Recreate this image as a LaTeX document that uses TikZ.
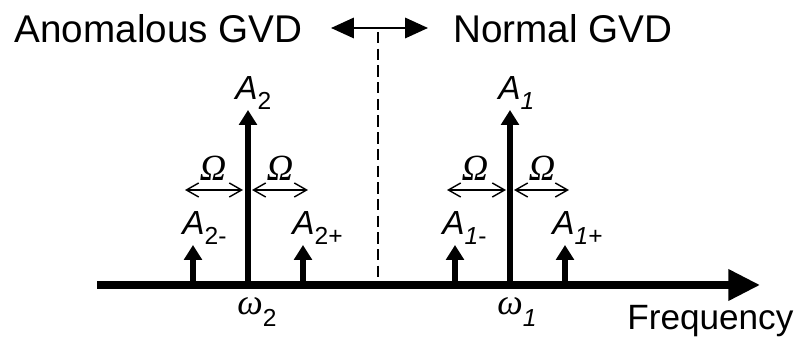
\documentclass[tikz,border=0pt]{standalone}
\usepackage{fontspec}
\setmainfont{Liberation Sans}
\newfontfamily\grk{Liberation Serif}
\usetikzlibrary{arrows.meta}
\newcommand{\gvdfont}{\fontsize{22}{24}\selectfont}
\newcommand{\amp}[2]{\fontsize{19}{20}\selectfont\textit{A}\raisebox{-5.5pt}{\fontsize{14}{15}\selectfont #1}\raisebox{-5.5pt}{\fontsize{14}{15}\selectfont #2}}
\newcommand{\om}[1]{\fontsize{20.5}{21}\selectfont{\grk\itshape ω}\raisebox{-6.5pt}{\fontsize{14}{15}\selectfont #1}}
\tikzset{
  txt/.style={anchor=base west, inner sep=0pt},
  stem/.style={line width=3pt, -{Triangle[length=8.5pt,width=10pt]}},
  span/.style={line width=0.8pt, {Straight Barb[length=7pt,width=8pt]}-{Straight Barb[length=7pt,width=8pt]}},
}
\begin{document}
\begin{tikzpicture}
  \useasboundingbox (0,0) rectangle (15.94,6.76);
  % GVD regions
  \node[txt, anchor=base east] (anom) at (6.06,5.9) {\gvdfont Anomalous GVD};
  \node[txt] (norm) at (9.06,5.9) {\gvdfont Normal GVD};
  \coordinate (gl) at (6.62,6.2);
  \coordinate (gr) at (8.56,6.2);
  \draw[line width=1.4pt, {Triangle[length=13pt,width=11.5pt]}-{Triangle[length=13pt,width=11.5pt]}] (gl) -- (gr);
  \coordinate (sep) at (7.56,6.12);
  \coordinate (sepb) at (7.56,1.16);
  \draw[line width=1.4pt, dash pattern=on 6.5pt off 3pt] (sep) -- (sepb);

  % frequency axis
  \coordinate (ax0) at (1.94,1.06);
  \coordinate (ax1) at (15.2,1.06);
  \draw[line width=4pt, -{Triangle[length=18pt,width=17pt]}] (ax0) -- (ax1);
  \node[txt] (freq) at (12.54,0.16) {\fontsize{20}{22}\selectfont Frequency};

  % pump 2
  \coordinate (w2) at (4.96,1.06);
  \coordinate (w2m) at (3.86,1.06);
  \coordinate (w2p) at (6.06,1.06);
  \draw[stem] (w2) -- (4.96,4.56);
  \draw[stem] (w2m) -- (3.86,1.86);
  \draw[stem] (w2p) -- (6.06,1.86);
  \node[txt] (a2) at (4.7,4.76) {\amp{2}{}};
  \node[txt] (a2m) at (3.64,2.06) {\amp{2}{-}};
  \node[txt] (a2p) at (5.84,2.06) {\amp{2}{+}};
  \node[txt] (o2) at (4.74,0.46) {\om{2}};

  % pump 1
  \coordinate (w1) at (10.2,1.06);
  \coordinate (w1m) at (9.1,1.06);
  \coordinate (w1p) at (11.3,1.06);
  \draw[stem] (w1) -- (10.2,4.56);
  \draw[stem] (w1m) -- (9.1,1.86);
  \draw[stem] (w1p) -- (11.3,1.86);
  \node[txt] (a1) at (9.96,4.76) {\amp{\textit{1}}{}};
  \node[txt] (a1m) at (8.84,2.06) {\amp{\textit{1}}{-}};
  \node[txt] (a1p) at (11.04,2.06) {\amp{\textit{1}}{+}};
  \node[txt] (o1) at (9.94,0.46) {\om{\textit{1}}};

  % detuning
  \foreach \l/\r/\m [count=\i] in {3.7/4.86/4.26, 5.04/6.16/5.6, 8.94/10.12/9.5, 10.28/11.38/10.84} {
    \coordinate (sl\i) at (\l,2.96);
    \coordinate (sr\i) at (\r,2.96);
    \draw[span] (sl\i) -- (sr\i);
    \node[anchor=base, inner sep=0pt] (om\i) at (\m,3.14) {\fontsize{21}{22}\selectfont\grk\itshape Ω};
  }
\end{tikzpicture}
\end{document}
